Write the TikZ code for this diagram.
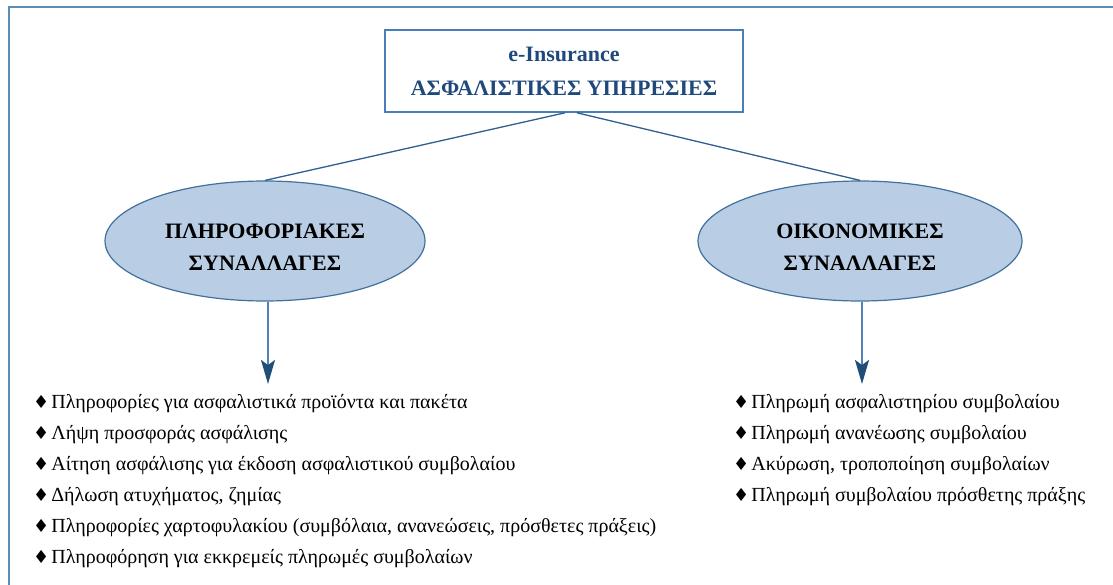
\documentclass[tikz,border=0pt]{standalone}
\usepackage{fontspec}
\setmainfont{Liberation Serif}
\newfontfamily\symfont{DejaVu Sans}
\usetikzlibrary{arrows.meta,shapes.geometric}
\definecolor{framecol}{HTML}{5B8CB6}
\definecolor{boxcol}{HTML}{4A7EBB}
\definecolor{titlecol}{HTML}{1F497D}
\definecolor{ellfill}{HTML}{B9CDE5}
\definecolor{ellcol}{HTML}{41719C}
\definecolor{linkcol}{HTML}{2F5F8F}
\definecolor{arrcol}{HTML}{4F81BD}
\definecolor{arrhead}{HTML}{1F4E79}
\newcommand\mybullet{{\symfont\fontsize{18}{18}\selectfont\char"2666}\hspace{2pt}}
\begin{document}
\begin{tikzpicture}[x=1pt,y=-1pt,
  frameline/.style={draw=framecol, line width=2pt},
  topbox/.style={draw=boxcol, line width=1.6pt, minimum width=358pt, minimum height=82pt,
    align=center, text=titlecol, font=\bfseries\fontsize{22}{34}\selectfont, inner sep=0pt},
  ell/.style={ellipse, draw=ellcol, fill=ellfill, line width=1.2pt, minimum width=320pt,
    minimum height=120pt, inner sep=0pt},
  elltext/.style={align=center, font=\bfseries\fontsize{22}{32}\selectfont, inner sep=0pt},
  link/.style={draw=linkcol, line width=1.3pt},
  arr/.style={draw=arrcol, line width=2.2pt, -{Stealth[length=24pt,width=14pt,inset=5pt,color=arrhead]}},
  item/.style={anchor=base west, font=\fontsize{20}{22}\selectfont, inner sep=0pt}]
\useasboundingbox (0,0) rectangle (1113,585);
\clip (0,0) rectangle (1113,585);
\draw[frameline] (9,600) -- (9,7) -- (1130,7);

\node[topbox] (top) at (564,71) {e-Insurance\\ΑΣΦΑΛΙΣΤΙΚΕΣ ΥΠΗΡΕΣΙΕΣ};
\node[ell] (L) at (265,241) {};
\node[ell, minimum width=324pt] (R) at (860,241) {};
\node[elltext] (Lt) at ([yshift=-6pt]L.center) {ΠΛΗΡΟΦΟΡΙΑΚΕΣ\\ΣΥΝΑΛΛΑΓΕΣ};
\node[elltext] (Rt) at ([yshift=-6pt]R.center) {ΟΙΚΟΝΟΜΙΚΕΣ\\ΣΥΝΑΛΛΑΓΕΣ};

\draw[link] ([xshift=1pt]top.south) -- (L.north);
\draw[link] ([xshift=13pt]top.south) -- (R.north);

\coordinate (la) at (268,384);
\coordinate (ra) at (862,384);
\draw[arr] (la |- L.south) -- (la);
\draw[arr] (ra |- R.south) -- (ra);

\node[item] (l1) at (33,408) {\mybullet Πληροφορίες για ασφαλιστικά προϊόντα και πακέτα};
\node[item] (l2) at (33,439) {\mybullet Λήψη προσφοράς ασφάλισης};
\node[item] (l3) at (33,470) {\mybullet Αίτηση ασφάλισης για έκδοση ασφαλιστικού συμβολαίου};
\node[item] (l4) at (33,501) {\mybullet Δήλωση ατυχήματος, ζημίας};
\node[item] (l5) at (33,532) {\mybullet Πληροφορίες χαρτοφυλακίου (συμβόλαια, ανανεώσεις, πρόσθετες πράξεις)};
\node[item] (l6) at (33,563) {\mybullet Πληροφόρηση για εκκρεμείς πληρωμές συμβολαίων};

\node[item] (r1) at (733,408) {\mybullet Πληρωμή ασφαλιστηρίου συμβολαίου};
\node[item] (r2) at (733,439) {\mybullet Πληρωμή ανανέωσης συμβολαίου};
\node[item] (r3) at (733,470) {\mybullet Ακύρωση, τροποποίηση συμβολαίων};
\node[item] (r4) at (733,501) {\mybullet Πληρωμή συμβολαίου πρόσθετης πράξης};
\end{tikzpicture}
\end{document}
